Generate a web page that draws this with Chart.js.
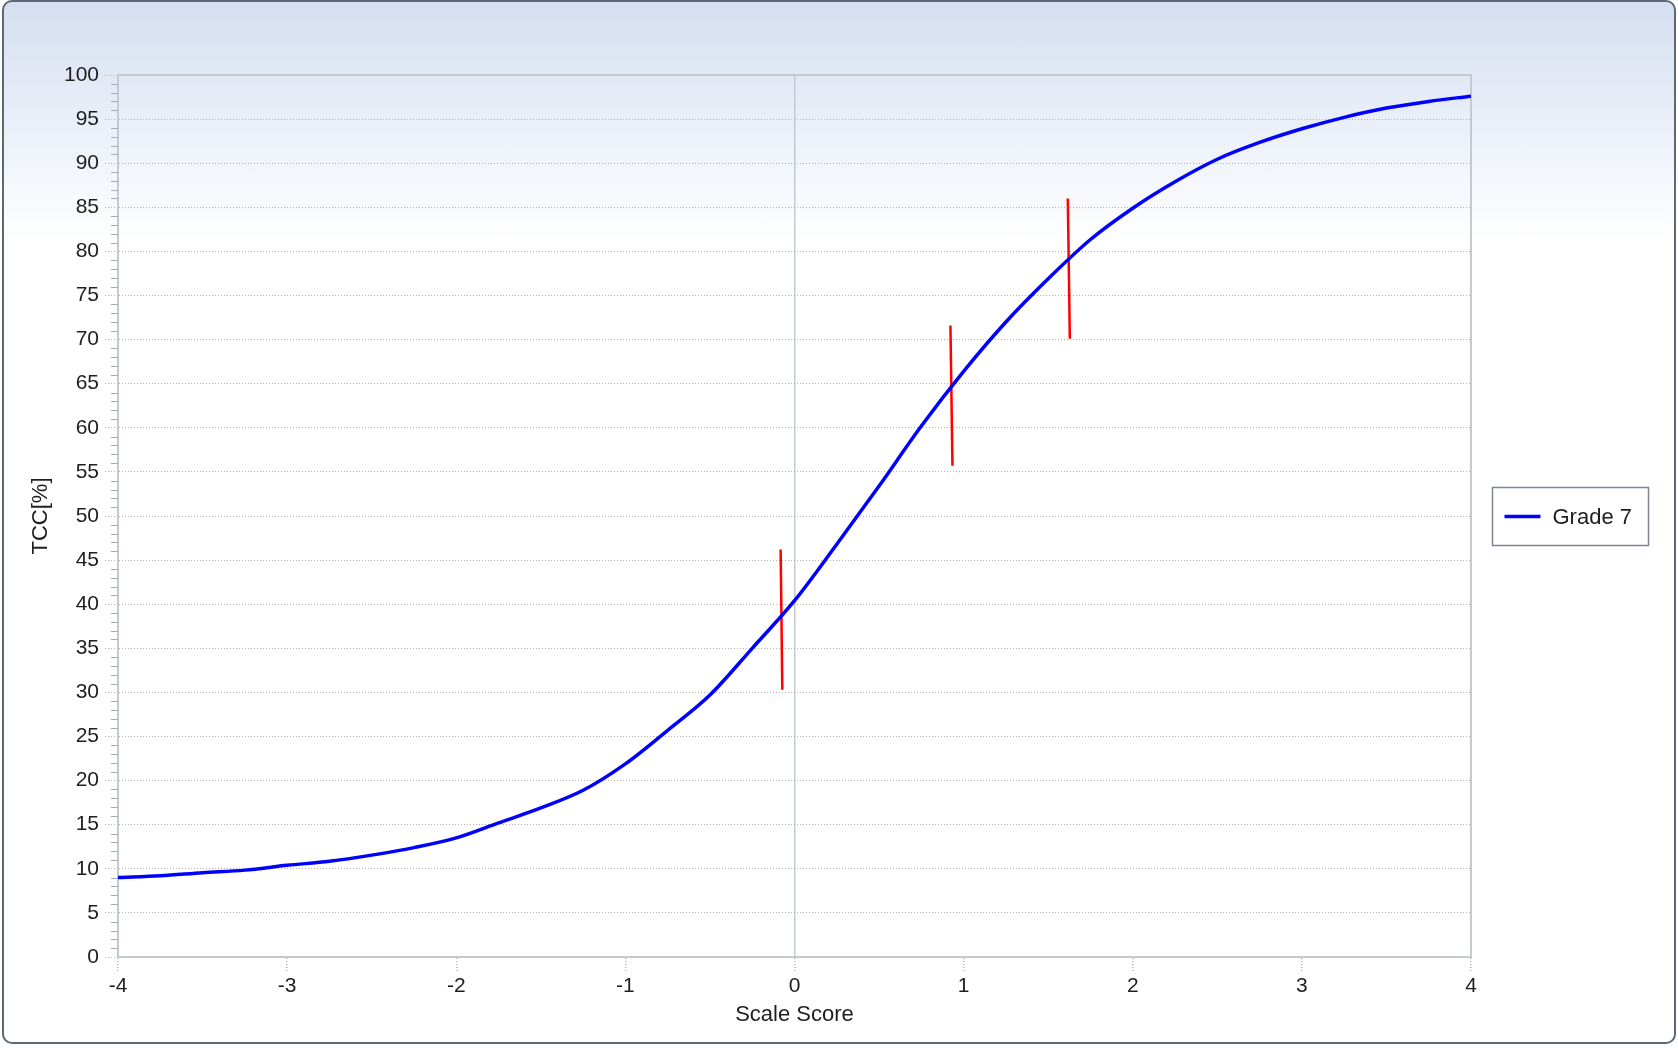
<!DOCTYPE html>
<html>
<head>
<meta charset="utf-8">
<title>TCC - Grade 7</title>
<script src="https://cdn.jsdelivr.net/npm/chart.js@4.4.1/dist/chart.umd.min.js"></script>
<style>
    html, body { margin: 0; padding: 0; background: #fff; }
    #frame {
        position: absolute; left: 2px; top: 0; width: 1670px; height: 1040px;
        border: 2px solid #5d6874; border-radius: 10px;
        background: linear-gradient(to bottom, #d5dff1 0px, #ffffff 240px);
    }
    #tcc { position: absolute; left: 0; top: 0; }
</style>
</head>
<body>
<div id="frame"></div>
<canvas id="tcc" width="1678" height="1048"></canvas>
<script>
// Scale score (x) and TCC in % (y)
const scores = [-4, -3.75, -3.5, -3.25, -3, -2.75, -2.5, -2.25, -2, -1.75, -1.5, -1.25,
    -1, -0.75, -0.5, -0.25, 0, 0.25, 0.5, 0.75, 1, 1.25, 1.5, 1.75,
    2, 2.25, 2.5, 2.75, 3, 3.25, 3.5, 3.75, 4];
const tcc = [9.0, 9.2, 9.55, 9.85, 10.4, 10.85, 11.55, 12.4, 13.5, 15.2, 16.9, 18.9,
    21.9, 25.7, 29.7, 35.0, 40.4, 46.8, 53.4, 60.2, 66.4, 72.0, 76.9, 81.35,
    84.9, 87.9, 90.45, 92.35, 93.9, 95.2, 96.25, 97.0, 97.6];

// Red cut marks: top and bottom end of each segment
const cutTopX = [-0.082, 0.922, 1.616];
const cutTopY = [46.2, 71.6, 86.0];
const cutBottomX = [-0.072, 0.934, 1.628];
const cutBottomY = [30.3, 55.7, 70.1];

const seriesLabel = 'Grade 7';
const xTitle = 'Scale Score';
const yTitle = 'TCC[%]';

Chart.defaults.font.family = '"Liberation Sans", Arial, sans-serif';
Chart.defaults.font.size = 21;
Chart.defaults.color = '#1e1e1e';

const datasets = [{
    label: seriesLabel,
    data: scores.map((s, i) => ({ x: s, y: tcc[i] })),
    borderColor: '#0000ff',
    borderWidth: 3.5,
    pointRadius: 0,
    cubicInterpolationMode: 'monotone',
    fill: false
}];
cutTopX.forEach((x, i) => {
    datasets.push({
        label: 'cut ' + (i + 1),
        data: [{ x: x, y: cutTopY[i] }, { x: cutBottomX[i], y: cutBottomY[i] }],
        borderColor: '#ff0000',
        borderWidth: 2.5,
        pointRadius: 0,
        fill: false
    });
});

// frame round the plot area + minor ticks on the y axis
const plotFrame = {
    id: 'plotFrame',
    beforeDatasetsDraw(chart) {
        const { ctx, chartArea, scales } = chart;
        ctx.save();
        ctx.strokeStyle = '#c6cad0';
        ctx.lineWidth = 2;
        ctx.strokeRect(chartArea.left, chartArea.top, chartArea.right - chartArea.left, chartArea.bottom - chartArea.top);
        ctx.strokeStyle = '#a3abb4';
        ctx.lineWidth = 1;
        for (let v = 1; v < 100; v++) {
            if (v % 5 === 0) continue;
            const y = Math.round(scales.y.getPixelForValue(v)) + 0.5;
            ctx.beginPath();
            ctx.moveTo(chartArea.left - 7, y);
            ctx.lineTo(chartArea.left, y);
            ctx.stroke();
        }
        ctx.restore();
    }
};

// boxed legend to the right of the plot
const legendBox = {
    id: 'legendBox',
    afterDraw(chart) {
        const { ctx, chartArea } = chart;
        const ds = chart.data.datasets[0];
        const w = 156, h = 58;
        const x = chartArea.right + 21.5;
        const y = Math.round((chartArea.top + chartArea.bottom) / 2 - h / 2) + 0.5;
        ctx.save();
        ctx.fillStyle = '#ffffff';
        ctx.fillRect(x, y, w, h);
        ctx.strokeStyle = '#7d8794';
        ctx.lineWidth = 1.5;
        ctx.strokeRect(x, y, w, h);
        ctx.strokeStyle = ds.borderColor;
        ctx.lineWidth = 3.5;
        ctx.beginPath();
        ctx.moveTo(x + 12, y + h / 2);
        ctx.lineTo(x + 48, y + h / 2);
        ctx.stroke();
        ctx.fillStyle = '#1e1e1e';
        ctx.font = '22px "Liberation Sans", Arial, sans-serif';
        ctx.textBaseline = 'middle';
        ctx.fillText(ds.label, x + 60, y + h / 2 + 1);
        ctx.restore();
    }
};

new Chart(document.getElementById('tcc').getContext('2d'), {
    type: 'line',
    data: { datasets: datasets },
    options: {
        responsive: false,
        animation: false,
        layout: { padding: { top: 75, right: 207, left: 0, bottom: 0 } },
        plugins: {
            legend: { display: false },
            tooltip: { enabled: false }
        },
        scales: {
            x: {
                type: 'linear',
                min: -4,
                max: 4,
                ticks: { stepSize: 1, padding: 3 },
                grid: {
                    color: ctx => (ctx.tick && ctx.tick.value === 0) ? '#c3c9d1' : 'rgba(0,0,0,0)',
                    lineWidth: 1.5,
                    tickColor: '#b5b5b5',
                    tickLength: 14,
                    tickBorderDash: [1, 2]
                },
                border: { color: '#c6cad0', width: 2 },
                title: { display: true, text: xTitle, font: { size: 22 }, padding: { top: 0, bottom: 20 } },
                afterFit: scale => { scale.height = 91; }
            },
            y: {
                min: 0,
                max: 100,
                ticks: { stepSize: 5, padding: 6 },
                grid: {
                    color: '#b4b4b4',
                    lineWidth: 1,
                    tickColor: '#b4b4b4',
                    tickLength: 13,
                    tickBorderDash: [1, 2]
                },
                border: { color: '#c6cad0', width: 2, dash: [1, 2] },
                title: { display: true, text: yTitle, font: { size: 22 }, padding: { top: 28, bottom: 0 } },
                afterFit: scale => { scale.width = 118; }
            }
        }
    },
    plugins: [plotFrame, legendBox]
});
</script>
</body>
</html>
